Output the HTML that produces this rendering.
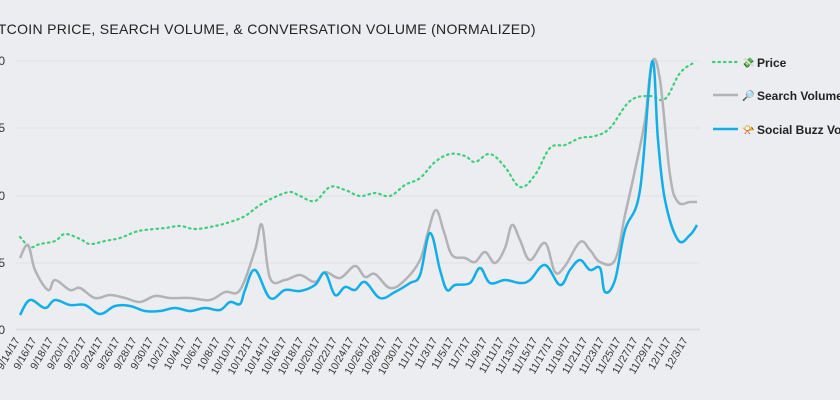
<!DOCTYPE html>
<html><head><meta charset="utf-8"><style>
html,body{margin:0;padding:0;background:#ebedf0;}
svg{display:block;font-family:"Liberation Sans",sans-serif;}
</style></head><body>
<svg width="840" height="400" viewBox="0 0 840 400">
<rect width="840" height="400" fill="#ebedf0"/>
<text x="-16" y="34" font-size="14" fill="#222" letter-spacing="0.3">BITCOIN PRICE, SEARCH VOLUME, &amp; CONVERSATION VOLUME (NORMALIZED)</text>
<g stroke="#dfe1e4" stroke-width="1">
<line x1="16" y1="61" x2="700" y2="61"/><line x1="16" y1="128" x2="700" y2="128"/>
<line x1="16" y1="196" x2="700" y2="196"/><line x1="16" y1="263" x2="700" y2="263"/>
</g>
<line x1="16" y1="329.5" x2="700" y2="329.5" stroke="#dcdde0" stroke-width="2"/>
<g font-size="12" fill="#333" text-anchor="end">
<text x="5" y="65">1.00</text><text x="5" y="132">0.75</text><text x="5" y="200">0.50</text><text x="5" y="267">0.25</text><text x="5" y="334">0</text>
</g>
<g id="xl" font-size="10.5" fill="#333" text-anchor="end"></g>
<path id="price" fill="none" stroke="#3ecf7c" stroke-width="2.2" stroke-dasharray="1.5 4" stroke-linecap="round"/>
<path id="search" fill="none" stroke="#b3b3b5" stroke-width="2.5"/>
<path id="social" fill="none" stroke="#12aee8" stroke-width="2.5"/>
<g font-size="12" font-weight="bold" fill="#222">
<line x1="713" y1="62" x2="738" y2="62" stroke="#3ecf7c" stroke-width="2.2" stroke-dasharray="1.5 4" stroke-linecap="round"/>
<text x="742" y="66" font-size="10">💸</text><text x="757" y="67">Price</text>
<line x1="713" y1="95" x2="738" y2="95" stroke="#b3b3b5" stroke-width="2.5"/>
<text x="742" y="99" font-size="10">🔎</text><text x="757" y="100">Search Volume</text>
<line x1="713" y1="129" x2="738" y2="129" stroke="#12aee8" stroke-width="2.5"/>
<text x="742" y="133" font-size="10">📯</text><text x="757" y="134">Social Buzz Volume</text>
</g>
</svg>
<script>
function sm(p){let d="M"+p[0][0]+","+p[0][1];for(let i=0;i<p.length-1;i++){const p0=p[i-1]||p[i],p1=p[i],p2=p[i+1],p3=p[i+2]||p2;const t=0.18;d+=` C${p1[0]+(p2[0]-p0[0])*t},${p1[1]+(p2[1]-p0[1])*t} ${p2[0]-(p3[0]-p1[0])*t},${p2[1]-(p3[1]-p1[1])*t} ${p2[0]},${p2[1]}`;}return d;}
const price=[[20,237],[30,247],[40,244],[55,241],[65,234],[80,239],[90,244],[105,241],[120,238],[135,232],[145,230],[165,228],[180,226],[195,229],[215,226],[230,222],[245,216],[260,205],[275,197],[290,192],[300,196],[315,201],[330,187],[345,190],[360,196],[375,193],[390,196],[405,185],[420,178],[435,162],[450,154],[465,156],[475,162],[490,154],[505,167],[520,187],[535,175],[550,148],[565,145],[580,138],[595,136],[610,128],[630,101],[650,96],[665,99],[680,73],[695,62]];
const search=[[20,258],[28,245],[35,270],[48,290],[55,280],[70,290],[80,288],[95,298],[110,295],[125,298],[140,302],[155,296],[170,298],[190,298],[210,300],[225,292],[240,290],[255,250],[262,225],[270,278],[285,280],[300,275],[315,282],[325,272],[340,278],[355,266],[365,277],[375,274],[390,288],[405,280],[420,260],[428,232],[436,210],[444,232],[452,255],[465,258],[475,262],[485,252],[495,263],[505,248],[512,225],[520,240],[530,260],[545,243],[555,272],[565,266],[580,242],[590,250],[600,262],[615,260],[625,215],[635,170],[645,120],[652,62],[660,80],[670,175],[678,202],[690,202],[697,202]];
const social=[[20,315],[30,300],[45,308],[55,300],[70,305],[85,305],[100,314],[115,306],[130,306],[145,311],[160,311],[175,308],[190,311],[205,308],[220,310],[230,302],[240,304],[245,290],[255,270],[270,298],[285,290],[300,291],[315,285],[325,273],[335,295],[345,287],[355,290],[365,282],[380,298],[395,292],[410,283],[420,275],[430,233],[440,270],[447,290],[455,285],[470,283],[480,268],[490,283],[505,280],[520,283],[530,280],[545,265],[560,285],[570,270],[580,260],[590,270],[600,268],[605,292],[615,280],[625,230],[640,190],[652,62],[658,140],[665,200],[678,240],[690,235],[697,225]];
document.getElementById("price").setAttribute("d",sm(price));
document.getElementById("search").setAttribute("d",sm(search));
document.getElementById("social").setAttribute("d",sm(social));
const g=document.getElementById("xl");let s="";const st=new Date(2017,8,14);
for(let i=0;i<41;i++){const d=new Date(st.getTime()+i*2*86400000+3600000*12);const l=(d.getMonth()+1)+"/"+d.getDate()+"/17";const x=(20+i*16.7).toFixed(1);s+=`<text transform="translate(${x},340) rotate(-60)">${l}</text>`;}
g.innerHTML=s;
</script>
</body></html>
